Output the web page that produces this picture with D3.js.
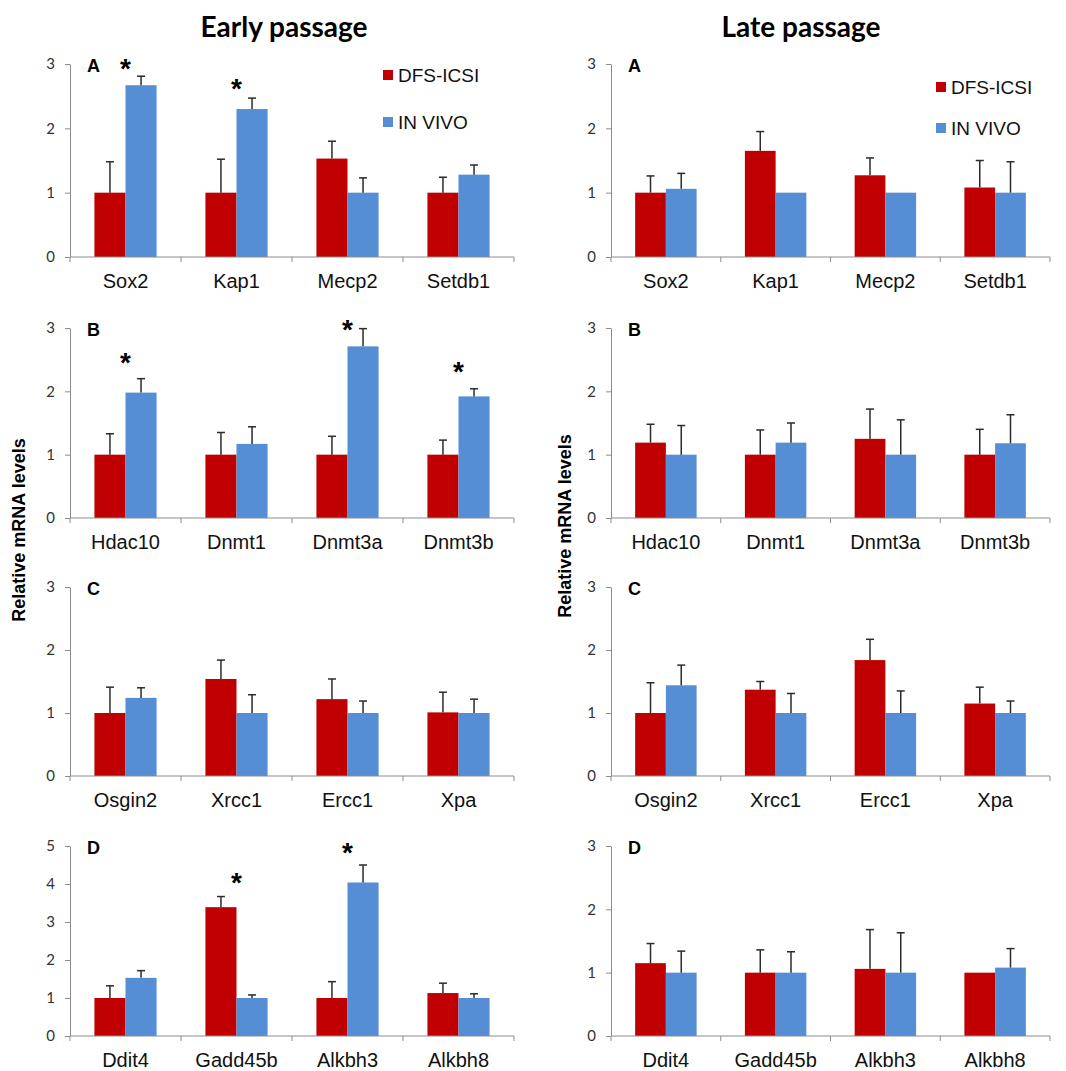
<!DOCTYPE html>
<html>
<head>
<meta charset="utf-8">
<script src="https://cdn.jsdelivr.net/npm/d3@7"></script>
<style>
  body { margin: 0; background: #fff; }
  svg { display: block; }
</style>
</head>
<body>
<svg id="chart"></svg>
<script>
// gene names per panel
var genesA = ["Sox2", "Kap1", "Mecp2", "Setdb1"];
var genesB = ["Hdac10", "Dnmt1", "Dnmt3a", "Dnmt3b"];
var genesC = ["Osgin2", "Xrcc1", "Ercc1", "Xpa"];
var genesD = ["Ddit4", "Gadd45b", "Alkbh3", "Alkbh8"];

var seriesNames = ["DFS-ICSI", "IN VIVO"];

// early passage
var earlyA_dfs = [1.00, 1.00, 1.53, 1.00], earlyA_dfsErr = [0.48, 0.52, 0.27, 0.24];
var earlyA_viv = [2.67, 2.30, 1.00, 1.28], earlyA_vivErr = [0.14, 0.17, 0.23, 0.15];
var earlyB_dfs = [1.00, 1.00, 1.00, 1.00], earlyB_dfsErr = [0.33, 0.35, 0.29, 0.23];
var earlyB_viv = [1.98, 1.17, 2.71, 1.92], earlyB_vivErr = [0.22, 0.27, 0.28, 0.12];
var earlyC_dfs = [1.00, 1.54, 1.22, 1.01], earlyC_dfsErr = [0.41, 0.30, 0.32, 0.32];
var earlyC_viv = [1.24, 1.00, 1.00, 1.00], earlyC_vivErr = [0.16, 0.29, 0.19, 0.22];
var earlyD_dfs = [1.00, 3.39, 1.00, 1.13], earlyD_dfsErr = [0.32, 0.28, 0.43, 0.26];
var earlyD_viv = [1.53, 1.00, 4.04, 1.00], earlyD_vivErr = [0.19, 0.08, 0.46, 0.11];

// late passage
var lateA_dfs = [1.00, 1.65, 1.27, 1.08], lateA_dfsErr = [0.26, 0.30, 0.27, 0.42];
var lateA_viv = [1.06, 1.00, 1.00, 1.00], lateA_vivErr = [0.24, 0.00, 0.00, 0.48];
var lateB_dfs = [1.19, 1.00, 1.25, 1.00], lateB_dfsErr = [0.29, 0.39, 0.47, 0.40];
var lateB_viv = [1.00, 1.19, 1.00, 1.18], lateB_vivErr = [0.46, 0.31, 0.55, 0.45];
var lateC_dfs = [1.00, 1.37, 1.84, 1.15], lateC_dfsErr = [0.48, 0.13, 0.33, 0.26];
var lateC_viv = [1.44, 1.00, 1.00, 1.00], lateC_vivErr = [0.32, 0.31, 0.35, 0.19];
var lateD_dfs = [1.15, 1.00, 1.06, 1.00], lateD_dfsErr = [0.31, 0.36, 0.62, 0.00];
var lateD_viv = [1.00, 1.00, 1.00, 1.08], lateD_vivErr = [0.34, 0.33, 0.63, 0.30];

// significance stars: gene and the level (axis units) where the star sits
var earlyA_stars = [["Sox2", 3.02], ["Kap1", 2.70]];
var earlyB_stars = [["Hdac10", 2.55], ["Dnmt3a", 3.06], ["Dnmt3b", 2.40]];
var earlyD_stars = [["Gadd45b", 4.18], ["Alkbh3", 4.97]];

var width = 1066, height = 1071;
var red = "#C00000", blue = "#558ED5";
var axisColor = "#8c8c8c";

var svg = d3.select("#chart").attr("width", width).attr("height", height);

var cols = [{ x0: 70, x1: 514 }, { x0: 611, x1: 1050 }];
var rows = [
  { top: 64, bottom: 257 },
  { top: 328, bottom: 518 },
  { top: 587, bottom: 776 },
  { top: 846, bottom: 1036 }
];

var panels = [
  { col: 0, row: 0, letter: "A", genes: genesA, ymax: 3, dfs: earlyA_dfs, dfsErr: earlyA_dfsErr, viv: earlyA_viv, vivErr: earlyA_vivErr, stars: earlyA_stars },
  { col: 0, row: 1, letter: "B", genes: genesB, ymax: 3, dfs: earlyB_dfs, dfsErr: earlyB_dfsErr, viv: earlyB_viv, vivErr: earlyB_vivErr, stars: earlyB_stars },
  { col: 0, row: 2, letter: "C", genes: genesC, ymax: 3, dfs: earlyC_dfs, dfsErr: earlyC_dfsErr, viv: earlyC_viv, vivErr: earlyC_vivErr, stars: [] },
  { col: 0, row: 3, letter: "D", genes: genesD, ymax: 5, dfs: earlyD_dfs, dfsErr: earlyD_dfsErr, viv: earlyD_viv, vivErr: earlyD_vivErr, stars: earlyD_stars },
  { col: 1, row: 0, letter: "A", genes: genesA, ymax: 3, dfs: lateA_dfs, dfsErr: lateA_dfsErr, viv: lateA_viv, vivErr: lateA_vivErr, stars: [] },
  { col: 1, row: 1, letter: "B", genes: genesB, ymax: 3, dfs: lateB_dfs, dfsErr: lateB_dfsErr, viv: lateB_viv, vivErr: lateB_vivErr, stars: [] },
  { col: 1, row: 2, letter: "C", genes: genesC, ymax: 3, dfs: lateC_dfs, dfsErr: lateC_dfsErr, viv: lateC_viv, vivErr: lateC_vivErr, stars: [] },
  { col: 1, row: 3, letter: "D", genes: genesD, ymax: 3, dfs: lateD_dfs, dfsErr: lateD_dfsErr, viv: lateD_viv, vivErr: lateD_vivErr, stars: [] }
];

function drawPanel(p) {
  var c = cols[p.col], r = rows[p.row];
  var g = svg.append("g");

  var x = d3.scaleBand().domain(p.genes).range([c.x0, c.x1]);
  var y = d3.scaleLinear().domain([0, p.ymax]).range([r.bottom, r.top]);
  var barW = x.bandwidth() * 0.28;
  var mid = function (gene) { return x(gene) + x.bandwidth() / 2; };

  // y axis
  var yAxis = g.append("g")
    .attr("transform", "translate(" + c.x0 + ",0)")
    .call(d3.axisLeft(y).ticks(p.ymax).tickSize(5).tickPadding(10).tickSizeOuter(0));
  yAxis.selectAll("path, line").attr("stroke", axisColor);
  yAxis.selectAll("text")
    .attr("font-family", "Lato, 'Open Sans', sans-serif")
    .attr("font-size", 15)
    .attr("fill", "#333");

  // bars
  var rowsData = p.genes.map(function (gene, i) {
    return [
      { gene: gene, v: p.dfs[i], e: p.dfsErr[i], off: -barW, color: red },
      { gene: gene, v: p.viv[i], e: p.vivErr[i], off: 0, color: blue }
    ];
  });
  var bars = d3.merge(rowsData);

  g.selectAll("rect.bar").data(bars).enter().append("rect")
    .attr("class", "bar")
    .attr("x", function (d) { return mid(d.gene) + d.off; })
    .attr("width", barW)
    .attr("y", function (d) { return y(d.v); })
    .attr("height", function (d) { return y(0) - y(d.v); })
    .attr("fill", function (d) { return d.color; });

  // error bars (upper only)
  var errs = bars.filter(function (d) { return d.e > 0; });
  var eg = g.selectAll("g.err").data(errs).enter().append("g")
    .attr("class", "err")
    .attr("stroke", "#2b2b2b")
    .attr("stroke-width", 1.5);
  eg.append("line")
    .attr("x1", function (d) { return mid(d.gene) + d.off + barW / 2; })
    .attr("x2", function (d) { return mid(d.gene) + d.off + barW / 2; })
    .attr("y1", function (d) { return y(d.v); })
    .attr("y2", function (d) { return y(d.v + d.e); });
  eg.append("line")
    .attr("x1", function (d) { return mid(d.gene) + d.off + barW / 2 - 4; })
    .attr("x2", function (d) { return mid(d.gene) + d.off + barW / 2 + 4; })
    .attr("y1", function (d) { return y(d.v + d.e); })
    .attr("y2", function (d) { return y(d.v + d.e); });

  // x axis: baseline + ticks at category boundaries
  g.append("line")
    .attr("x1", c.x0).attr("x2", c.x1)
    .attr("y1", r.bottom).attr("y2", r.bottom)
    .attr("stroke", axisColor);
  var bounds = p.genes.map(function (gene) { return x(gene); }).concat([c.x1]);
  g.selectAll("line.xtick").data(bounds).enter().append("line")
    .attr("class", "xtick")
    .attr("x1", function (d) { return d; }).attr("x2", function (d) { return d; })
    .attr("y1", r.bottom).attr("y2", r.bottom + 5)
    .attr("stroke", axisColor);
  g.selectAll("text.cat").data(p.genes).enter().append("text")
    .attr("class", "cat")
    .attr("x", mid)
    .attr("y", r.bottom + 31)
    .attr("text-anchor", "middle")
    .attr("font-family", "'Liberation Sans', Arial, sans-serif")
    .attr("font-size", 20)
    .attr("fill", "#111")
    .text(function (d) { return d; });

  // panel letter
  g.append("text")
    .attr("x", c.x0 + 17)
    .attr("y", r.top + 8)
    .attr("font-family", "'Liberation Sans', Arial, sans-serif")
    .attr("font-weight", "bold")
    .attr("font-size", 18)
    .text(p.letter);

  // stars
  g.selectAll("text.star").data(p.stars).enter().append("text")
    .attr("class", "star")
    .attr("x", function (d) { return mid(d[0]); })
    .attr("y", function (d) { return y(d[1]) + 15; })
    .attr("text-anchor", "middle")
    .attr("font-family", "'Liberation Sans', Arial, sans-serif")
    .attr("font-weight", "bold")
    .attr("font-size", 28)
    .text("*");
}

panels.forEach(drawPanel);

// column titles
var titles = [["Early passage", 284], ["Late passage", 801]];
svg.selectAll("text.title").data(titles).enter().append("text")
  .attr("class", "title")
  .attr("x", function (d) { return d[1]; })
  .attr("y", 37)
  .attr("text-anchor", "middle")
  .attr("font-family", "Lato, 'Open Sans', sans-serif")
  .attr("font-weight", "bold")
  .attr("font-size", 28)
  .text(function (d) { return d[0]; });

// y labels
[[19, 530], [565, 526]].forEach(function (pos) {
  svg.append("text")
    .attr("transform", "translate(" + pos[0] + "," + pos[1] + ") rotate(-90)")
    .attr("text-anchor", "middle")
    .attr("dy", "0.35em")
    .attr("font-family", "'Liberation Sans', Arial, sans-serif")
    .attr("font-weight", "bold")
    .attr("font-size", 18)
    .text("Relative mRNA levels");
});

// legends
var legends = [{ x: 383, ys: [75, 122] }, { x: 936, ys: [87, 128] }];
legends.forEach(function (L) {
  var lg = svg.append("g");
  seriesNames.forEach(function (name, i) {
    lg.append("rect")
      .attr("x", L.x).attr("y", L.ys[i] - 5)
      .attr("width", 10).attr("height", 10)
      .attr("fill", i === 0 ? red : blue);
    lg.append("text")
      .attr("x", L.x + 15).attr("y", L.ys[i])
      .attr("dy", "0.35em")
      .attr("font-family", "'Liberation Sans', Arial, sans-serif")
      .attr("font-size", 19)
      .attr("fill", "#111")
      .text(name);
  });
});
</script>
</body>
</html>
